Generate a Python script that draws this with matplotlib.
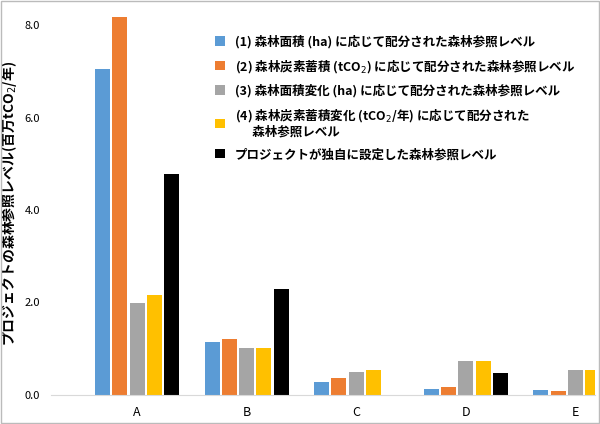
import matplotlib
matplotlib.use("Agg")
import matplotlib.pyplot as plt
import numpy as np

plt.rcParams["font.family"] = ["Noto Sans CJK JP", "DejaVu Sans"]

categories = ["A", "B", "C", "D", "E"]
s1 = [7.05, 1.15, 0.28, 0.14, 0.10]
s2 = [8.17, 1.21, 0.37, 0.17, 0.08]
s3 = [1.98, 1.02, 0.50, 0.74, 0.53]
s4 = [2.16, 1.01, 0.55, 0.74, 0.55]
s5 = [4.78, 2.29, 0.0, 0.47, 0.52]
labels = [
    "(1) 森林面積 (ha) に応じて配分された森林参照レベル",
    "(2) 森林炭素蓄積 (tCO$_2$) に応じて配分された森林参照レベル",
    "(3) 森林面積変化 (ha) に応じて配分された森林参照レベル",
    "(4) 森林炭素蓄積変化 (tCO$_2$/年) に応じて配分された\n      森林参照レベル",
    "プロジェクトが独自に設定した森林参照レベル",
]
colors = ["#5B9BD5", "#ED7D31", "#A5A5A5", "#FFC000", "#000000"]
yticks = [0.0, 2.0, 4.0, 6.0, 8.0]

fig = plt.figure(figsize=(6.0, 4.24), dpi=100)
# axes from y=395 (bottom) to y=12 (top) in pixels
ax = fig.add_axes([0.085, 29 / 424, 0.907, 383 / 424])
x = np.arange(len(categories))
w = 0.137
stride = 0.158
for i, (s, c, l) in enumerate(zip([s1, s2, s3, s4, s5], colors, labels)):
    ax.bar(x + (i - 2) * stride, s, w, color=c, label=l)
ax.set_xlim(-0.785, 4.18)
ax.set_ylim(0, 8.0 * 383 / 370)
ax.set_yticks(yticks)
ax.set_yticklabels([f"{v:.1f}" for v in yticks], fontsize=8)
ax.set_xticks(x)
ax.set_xticklabels(categories, fontsize=9)
for sp in ["top", "right", "left"]:
    ax.spines[sp].set_visible(False)
ax.spines["bottom"].set_color("#D9D9D9")
ax.tick_params(length=0, pad=8)
ax.set_ylabel("プロジェクトの森林参照レベル(百万tCO$_2$/年)", fontsize=10, fontweight="bold")
ax.legend(loc="upper left", bbox_to_anchor=(0.28, 0.97), frameon=False,
          handlelength=0.8, handleheight=0.8, labelspacing=0.75,
          prop={"weight": "bold", "size": 9})
fig.patches.append(plt.Rectangle((0.002, 0.002), 0.996, 0.996, transform=fig.transFigure,
                                 fill=False, edgecolor="#BBBBBB", lw=1))
fig.savefig("out.png")
